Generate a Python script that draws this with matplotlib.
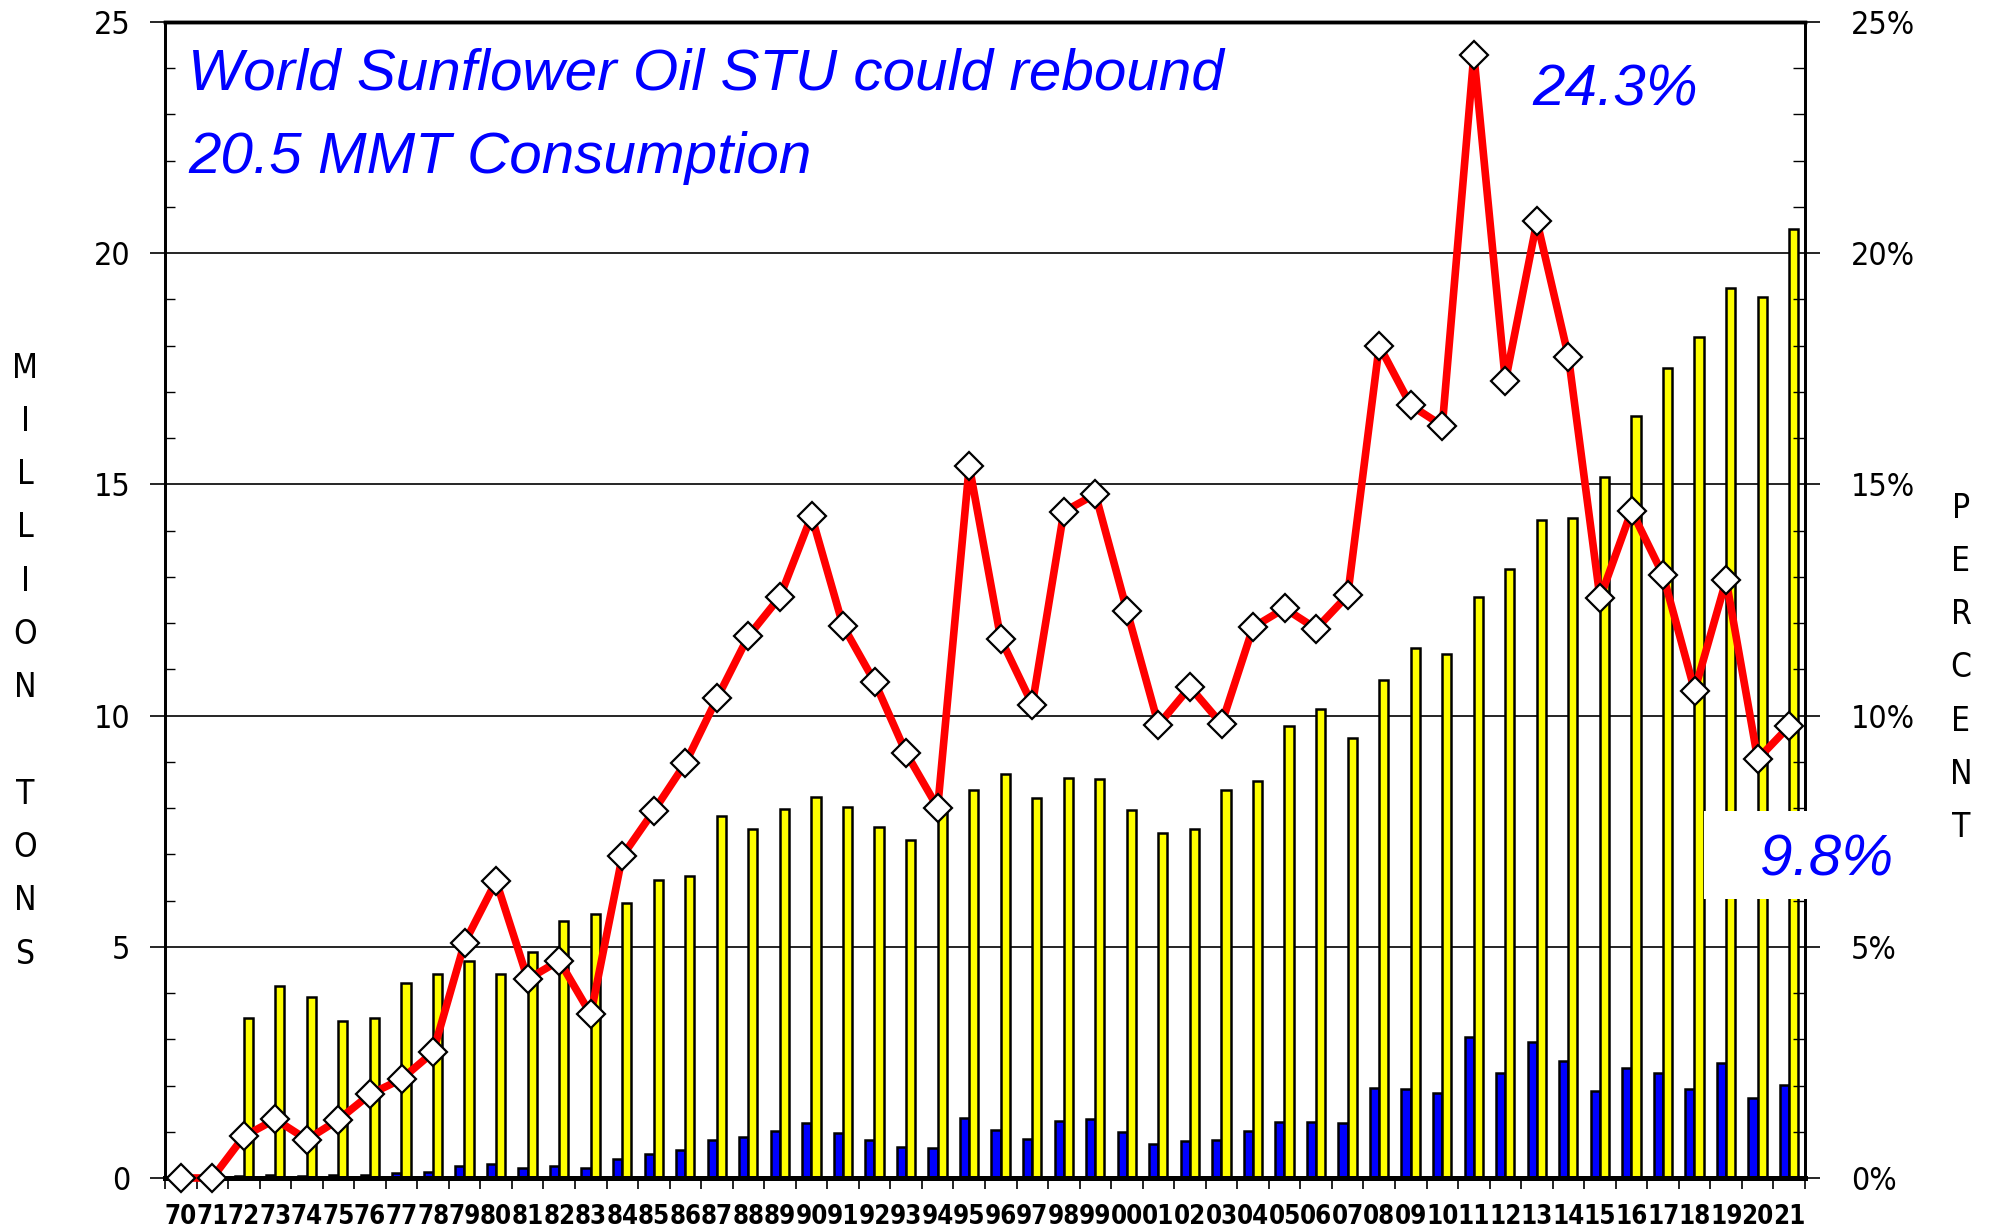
import matplotlib
matplotlib.use("Agg")
import matplotlib.pyplot as plt
import numpy as np
from matplotlib.patches import Rectangle
from matplotlib.ticker import MultipleLocator, FixedLocator

# marketing years 1970/71 .. 2021/22
years = ['70', '71', '72', '73', '74', '75', '76', '77', '78', '79',
         '80', '81', '82', '83', '84', '85', '86', '87', '88', '89',
         '90', '91', '92', '93', '94', '95', '96', '97', '98', '99',
         '00', '01', '02', '03', '04', '05', '06', '07', '08', '09',
         '10', '11', '12', '13', '14', '15', '16', '17', '18', '19',
         '20', '21']

# ending stocks, million tons (blue)
stocks = [0.0, 0.0, 0.04, 0.06, 0.04, 0.06, 0.07, 0.10, 0.14, 0.25,
          0.30, 0.22, 0.27, 0.22, 0.42, 0.52, 0.60, 0.82, 0.88, 1.01,
          1.19, 0.97, 0.82, 0.68, 0.65, 1.29, 1.03, 0.84, 1.24, 1.28,
          0.99, 0.73, 0.81, 0.83, 1.02, 1.21, 1.21, 1.20, 1.94, 1.92,
          1.84, 3.04, 2.27, 2.95, 2.53, 1.89, 2.38, 2.28, 1.92, 2.49,
          1.73, 2.01]

# consumption, million tons (yellow)
consumption = [0.0, 0.0, 3.45, 4.15, 3.92, 3.40, 3.45, 4.22, 4.42, 4.69,
               4.42, 4.88, 5.56, 5.72, 5.95, 6.45, 6.53, 7.83, 7.55, 7.99,
               8.23, 8.02, 7.60, 7.31, 8.00, 8.40, 8.73, 8.21, 8.64, 8.62,
               7.95, 7.47, 7.55, 8.40, 8.59, 9.77, 10.15, 9.52, 10.78, 11.47,
               11.33, 12.57, 13.17, 14.24, 14.27, 15.15, 16.47, 17.51, 18.19, 19.24,
               19.05, 20.53]

# stocks-to-use ratio, percent (red)
stu = [0.0, 0.0, 0.90, 1.27, 0.83, 1.26, 1.81, 2.14, 2.72, 5.09,
       6.42, 4.30, 4.70, 3.54, 6.96, 7.94, 8.97, 10.37, 11.72, 12.57,
       14.32, 11.94, 10.73, 9.19, 8.01, 15.40, 11.66, 10.24, 14.41, 14.79,
       12.27, 9.80, 10.62, 9.82, 11.91, 12.32, 11.88, 12.60, 18.00, 16.71,
       16.27, 24.29, 17.23, 20.69, 17.76, 12.54, 14.43, 13.04, 10.54, 12.93,
       9.06, 9.77]

W, H = 1990, 1231
narrow = ['DejaVu Sans Condensed', 'DejaVu Sans']

fig = plt.figure(figsize=(W / 100, H / 100), dpi=100)
ax = fig.add_axes([165 / W, 1 - 1178 / H, (1805 - 165) / W, (1178 - 22) / H])

x = np.arange(len(years))
bw = 0.29
ax.bar(x - 0.15, stocks, bw, color='#0000FF', edgecolor='black', linewidth=1.8, zorder=2)
ax.bar(x + 0.14, consumption, bw, color='#FFFF00', edgecolor='black', linewidth=1.8, zorder=2)

ax.set_xlim(-0.5, len(years) - 0.5)
ax.set_ylim(0, 25)
ax.set_axisbelow(True)
ax.yaxis.set_major_locator(MultipleLocator(5))
ax.yaxis.set_minor_locator(MultipleLocator(1))
ax.grid(axis='y', which='major', color='black', linewidth=1.2)

ax.set_xticks(x)
ax.set_xticklabels(years)
ax.xaxis.set_minor_locator(FixedLocator(np.arange(-0.5, len(years), 1.0)))
ax.tick_params(axis='x', which='major', length=0, pad=19)
ax.tick_params(axis='x', which='minor', length=8, width=1.2, direction='out')
for lab in ax.get_xticklabels():
    lab.set_fontfamily(narrow)
    lab.set_fontstretch('condensed')
    lab.set_fontweight('bold')
    lab.set_fontsize(18.5)

ax.tick_params(axis='y', which='major', length=11, width=1.2, direction='out', pad=14, labelsize=23)
ax.tick_params(axis='y', which='minor', length=7, width=1.0, direction='in')
for lab in ax.get_yticklabels():
    lab.set_fontfamily(narrow)
    lab.set_fontstretch('condensed')

for side, lw in [('left', 2), ('right', 2), ('top', 2.5), ('bottom', 3.5)]:
    ax.spines[side].set_linewidth(lw)

# right percent axis
ax2 = ax.twinx()
ax2.set_ylim(0, 25)
ax2.yaxis.set_major_locator(MultipleLocator(5))
ax2.yaxis.set_minor_locator(MultipleLocator(1))
ax2.set_yticklabels([f'{int(v)}%' for v in ax2.get_yticks()])
ax2.tick_params(axis='y', which='major', length=11, width=1.2, direction='out', pad=22, labelsize=23)
ax2.tick_params(axis='y', which='minor', length=9, width=1.0, direction='in')
for lab in ax2.get_yticklabels():
    lab.set_fontfamily(narrow)
    lab.set_fontstretch('condensed')
for side, lw in [('left', 2), ('right', 2), ('top', 2.5), ('bottom', 3.5)]:
    ax2.spines[side].set_linewidth(lw)

ax2.plot(x, stu, color='#FF0000', linewidth=5.5, marker='D', markersize=14,
         markerfacecolor='white', markeredgecolor='black', markeredgewidth=1.6,
         clip_on=False, zorder=3)

# stacked axis titles
def stacked(label, xc, y_top, step):
    for i, ch in enumerate(label):
        if ch == ' ':
            continue
        fig.text(xc / W, 1 - (y_top + i * step) / H, ch, ha='center', va='center',
                 fontsize=24, family=narrow, stretch='condensed')

stacked('MILLION TONS', 25, 368, 53.3)
stacked('PERCENT', 1961, 508, 53.3)

blue = '#0000FF'
tfont = dict(family=['Liberation Sans', 'DejaVu Sans'], style='italic', color=blue, fontsize=42)
fig.text(188 / W, 1 - 89 / H, 'World Sunflower Oil STU could rebound', va='baseline', **tfont)
fig.text(188 / W, 1 - 173 / H, '20.5 MMT Consumption', va='baseline', **tfont)
fig.text(1698 / W, 1 - 105 / H, '24.3%', ha='right', va='baseline', **tfont)

fig.add_artist(Rectangle((1704 / W, 1 - 899 / H), 196 / W, 88 / H, transform=fig.transFigure,
                         facecolor='white', edgecolor='none', zorder=5))
fig.text(1893 / W, 1 - 875 / H, '9.8%', ha='right', va='baseline', zorder=6, **tfont)

fig.savefig('out.png', dpi=100, facecolor='white')
